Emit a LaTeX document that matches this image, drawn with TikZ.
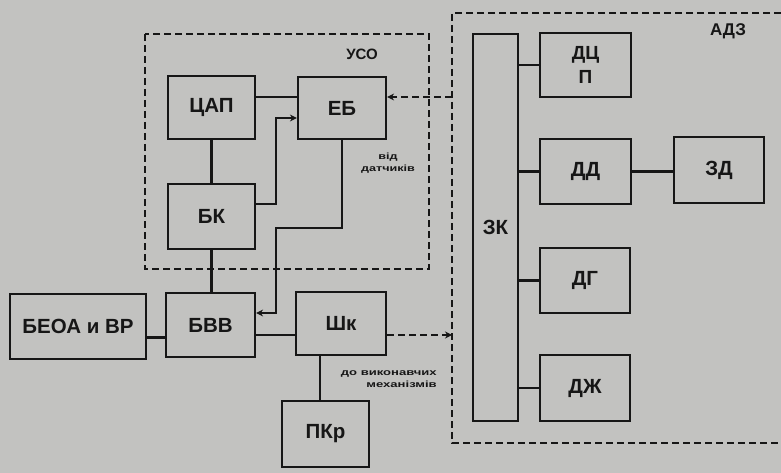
\documentclass[tikz,border=0pt]{standalone}
\usepackage{fontspec}
\setmainfont{Liberation Sans}
\usetikzlibrary{arrows.meta}
\definecolor{bg}{RGB}{194,194,192}
\definecolor{ink}{RGB}{22,22,22}
\tikzset{
  blk/.style={draw=ink, line width=2.2pt, rectangle, inner sep=0pt, font=\bfseries\fontsize{20.5}{24}\selectfont, text=ink},
  wire/.style={draw=ink, line width=2.2pt},
  dwire/.style={draw=ink, line width=2.2pt, dash pattern=on 7pt off 4pt},
  frame/.style={draw=ink, line width=2.2pt, dash pattern=on 7pt off 4pt},
  arr/.style={-{Stealth[length=7pt,width=7pt]}},
  small/.style={font=\bfseries\fontsize{9}{10}\selectfont, text=ink, inner sep=0pt},
  ttl/.style={font=\bfseries\fontsize{15}{17}\selectfont, text=ink, inner sep=0pt}
}
\begin{document}
\begin{tikzpicture}[x=1pt,y=-1pt]
\fill[bg] (0,0) rectangle (781,473);
\useasboundingbox (0,0) rectangle (781,473);
% frames
\draw[frame] (145,34) rectangle (429,269);
\draw[frame] (781,13) -- (452,13) -- (452,443) -- (781,443);
\coordinate (adzL) at (452,0);
\node[ttl] (uso) at (362,54) {УСО};
\node[ttl, font=\bfseries\fontsize{17}{19}\selectfont] (adz) at (728,31) {АДЗ};
% blocks
\node[blk, minimum width=87pt, minimum height=63pt] (cap) at (211.5,107.5) {ЦАП};
\node[blk, minimum width=88pt, minimum height=62pt] (eb) at (342,108) {ЕБ};
\node[blk, minimum width=87pt, minimum height=65pt] (bk) at (211.5,216.5) {БК};
\node[blk, minimum width=136pt, minimum height=65pt] (beoa) at (78,326.5) {БЕОА и ВР};
\node[blk, minimum width=89pt, minimum height=64pt] (bvv) at (210.5,325) {БВВ};
\node[blk, minimum width=90pt, minimum height=63pt] (shk) at (341,323.5) {Шк};
\node[blk, minimum width=87pt, minimum height=66pt] (pkr) at (325.5,434) {ПКр};
\node[blk, minimum width=45pt, minimum height=387pt] (zk) at (495.5,227.5) {ЗК};
\node[blk, minimum width=91pt, minimum height=64pt, align=center, font=\bfseries\fontsize{19}{24}\selectfont] (dcp) at (585.5,65) {ДЦ\\П};
\node[blk, minimum width=91pt, minimum height=65pt] (dd) at (585.5,171.5) {ДД};
\node[blk, minimum width=90pt, minimum height=66pt] (zd) at (719,170) {ЗД};
\node[blk, minimum width=90pt, minimum height=65pt] (dg) at (585,280.5) {ДГ};
\node[blk, minimum width=90pt, minimum height=66pt] (dzh) at (585,388) {ДЖ};
% small labels
\node[small, align=center, xscale=1.4] (vid) at (388,163) {від\\[2pt]датчиків};
\node[small, align=right, xscale=1.45, anchor=east] (do) at (437,379) {до виконавчих\\[2pt]механізмів};
% connectors
\draw[wire] ([yshift=10.5pt]cap.east) coordinate (c1) -- (c1 -| eb.west);
\draw[wire] (cap.south) -- (bk.north);
\draw[wire, arr] ([yshift=12.5pt]bk.east) -- ++(20,0) |- ([yshift=-10pt]eb.west);
\draw[wire, arr] (eb.south) -- ++(0,88) -- ++(-66,0) |- ([yshift=12pt]bvv.east);
\draw[wire] (bk.south) -- (bk.south |- bvv.north);
\draw[wire] ([yshift=-11pt]beoa.east) coordinate (c2) -- (c2 -| bvv.west);
\draw[wire] ([yshift=-10pt]bvv.east) coordinate (c3) -- (c3 -| shk.west);
\draw[dwire, arr] ([yshift=-11.5pt]shk.east) coordinate (c4) -- (c4 -| adzL);
\draw[dwire, arr] ([yshift=11pt]eb.east -| adzL) -- ([yshift=11pt]eb.east);
\draw[wire] ([xshift=-21pt]shk.south) coordinate (c5) -- (c5 |- pkr.north);
\draw[wire] (dcp.west -| zk.east) -- (dcp.west);
\draw[wire] (dd.west -| zk.east) -- (dd.west);
\draw[wire] (dg.west -| zk.east) -- (dg.west);
\draw[wire] (dzh.west -| zk.east) -- (dzh.west);
\draw[wire] (dd.east) -- (dd.east -| zd.west);
\end{tikzpicture}
\end{document}
